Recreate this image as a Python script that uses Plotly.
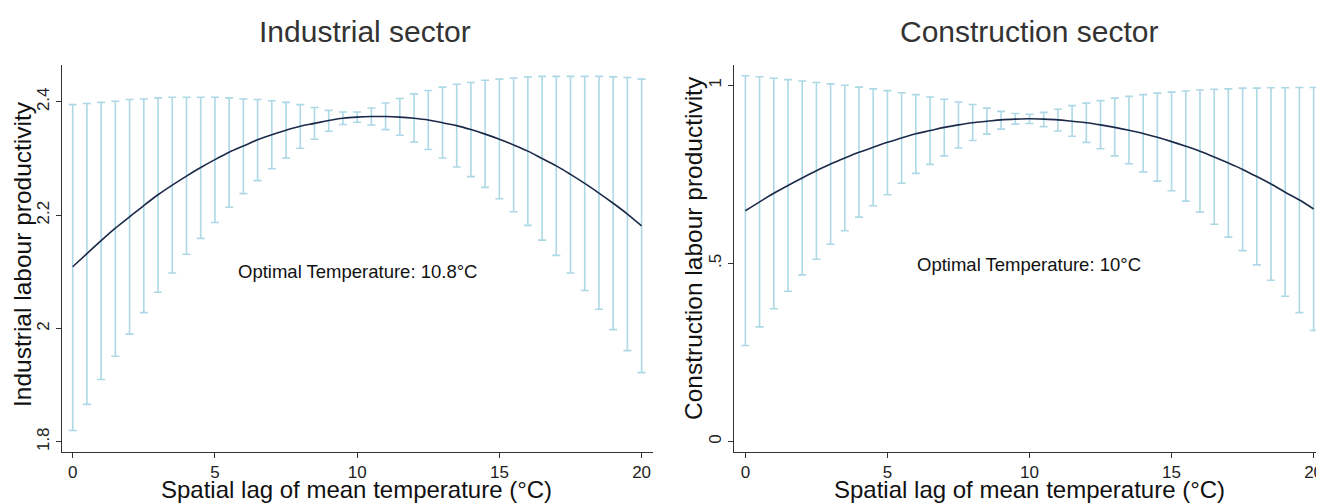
import plotly.graph_objects as go

# ---------------- data ----------------
temps = [i * 0.5 for i in range(41)]  # 0, 0.5, ..., 20

ind_fit = [2.109, 2.132, 2.155, 2.177, 2.197, 2.217, 2.236, 2.253, 2.269, 2.284,
           2.298, 2.311, 2.322, 2.333, 2.342, 2.350, 2.357, 2.362, 2.367, 2.371,
           2.373, 2.374, 2.374, 2.373, 2.371, 2.368, 2.363, 2.358, 2.351, 2.343,
           2.334, 2.324, 2.313, 2.300, 2.287, 2.272, 2.256, 2.239, 2.221, 2.202, 2.181]
ind_upper = [2.395, 2.397, 2.399, 2.401, 2.404, 2.405, 2.407, 2.408, 2.408, 2.408,
             2.408, 2.407, 2.405, 2.404, 2.402, 2.399, 2.395, 2.390, 2.385, 2.382,
             2.382, 2.389, 2.398, 2.406, 2.414, 2.420, 2.426, 2.431, 2.434, 2.438,
             2.440, 2.442, 2.444, 2.445, 2.445, 2.445, 2.445, 2.445, 2.444, 2.443, 2.440]
ind_lower = [1.820, 1.866, 1.910, 1.951, 1.990, 2.028, 2.064, 2.098, 2.131, 2.159,
             2.187, 2.214, 2.238, 2.261, 2.282, 2.301, 2.318, 2.334, 2.348, 2.360,
             2.364, 2.359, 2.351, 2.341, 2.329, 2.316, 2.301, 2.285, 2.268, 2.249,
             2.229, 2.206, 2.182, 2.156, 2.129, 2.098, 2.067, 2.034, 1.998, 1.961, 1.922]

con_fit = [0.648, 0.673, 0.697, 0.719, 0.740, 0.760, 0.779, 0.796, 0.812, 0.826,
           0.840, 0.852, 0.864, 0.873, 0.882, 0.889, 0.895, 0.899, 0.903, 0.905,
           0.906, 0.905, 0.903, 0.899, 0.895, 0.889, 0.882, 0.874, 0.865, 0.854,
           0.842, 0.829, 0.815, 0.799, 0.782, 0.764, 0.744, 0.723, 0.700, 0.678, 0.653]
con_upper = [1.027, 1.024, 1.020, 1.016, 1.012, 1.008, 1.004, 1.000, 0.995, 0.990,
             0.985, 0.979, 0.974, 0.967, 0.961, 0.953, 0.946, 0.936, 0.927, 0.921,
             0.919, 0.924, 0.933, 0.943, 0.950, 0.957, 0.964, 0.969, 0.974, 0.978,
             0.981, 0.984, 0.987, 0.989, 0.990, 0.992, 0.992, 0.993, 0.993, 0.994, 0.994]
con_lower = [0.270, 0.322, 0.373, 0.422, 0.468, 0.512, 0.554, 0.592, 0.630, 0.662,
             0.693, 0.725, 0.753, 0.778, 0.802, 0.824, 0.845, 0.863, 0.877, 0.891,
             0.893, 0.884, 0.872, 0.857, 0.840, 0.822, 0.802, 0.780, 0.757, 0.731,
             0.704, 0.675, 0.644, 0.610, 0.574, 0.536, 0.496, 0.453, 0.408, 0.362, 0.312]

x_ticks = [0, 5, 10, 15, 20]
ind_yticks = [1.8, 2.0, 2.2, 2.4]
ind_yticklabels = ["1.8", "2", "2.2", "2.4"]
con_yticks = [0, 0.5, 1]
con_yticklabels = ["0", ".5", "1"]

titles = ["Industrial sector", "Construction sector"]
y_titles = ["Industrial labour productivity", "Construction labour productivity"]
x_title = "Spatial lag of mean temperature (°C)"
opt_labels = ["Optimal Temperature: 10.8°C", "Optimal Temperature: 10°C"]
opt_pos = [(10, 2.101), (10, 0.496)]

# ---------------- styling ----------------
OFF = 8  # page body margin
W, H = 1324 - OFF, 504 - OFF
FONT = "Liberation Sans, Arial, sans-serif"
CI_COLOR = "#add8e6"
LINE_COLOR = "#1c2a4a"
AXIS_COLOR = "#333333"

def px_x(p):
    return (p - OFF) / W

def px_y(p):
    return 1 - (p - OFF) / H

fig = go.Figure()

panels = [
    dict(fit=ind_fit, up=ind_upper, lo=ind_lower, xa="x", ya="y"),
    dict(fit=con_fit, up=con_upper, lo=con_lower, xa="x2", ya="y2"),
]
for p in panels:
    plus = [u - m for u, m in zip(p["up"], p["fit"])]
    minus = [m - l for m, l in zip(p["fit"], p["lo"])]
    fig.add_trace(go.Scatter(
        x=temps, y=p["fit"], mode="markers",
        marker=dict(size=0.1, color="rgba(0,0,0,0)"),
        error_y=dict(type="data", symmetric=False, array=plus, arrayminus=minus,
                     color=CI_COLOR, thickness=1.6, width=4),
        xaxis=p["xa"], yaxis=p["ya"], showlegend=False, hoverinfo="skip"))
    fig.add_trace(go.Scatter(
        x=temps, y=p["fit"], mode="lines", line=dict(color=LINE_COLOR, width=1.6, shape="spline"),
        xaxis=p["xa"], yaxis=p["ya"], showlegend=False))

common_axis = dict(showline=True, linecolor=AXIS_COLOR, linewidth=1, ticks="outside",
                   ticklen=5, tickcolor=AXIS_COLOR, showgrid=False, zeroline=False,
                   ticklabeloverflow="allow",
                   tickfont=dict(family=FONT, size=17, color="#222"))

fig.update_layout(
    width=W, height=H, margin=dict(l=0, r=0, t=0, b=0),
    paper_bgcolor="white", plot_bgcolor="white",
    font=dict(family=FONT, color="#222"),
    xaxis=dict(domain=[px_x(62), px_x(653)], range=[-0.376, 20.4], tickvals=x_ticks,
               anchor="y", **common_axis),
    yaxis=dict(domain=[px_y(452), px_y(65)], range=[1.782, 2.465], tickvals=ind_yticks,
               ticktext=ind_yticklabels, tickangle=-90, anchor="x", **common_axis),
    xaxis2=dict(domain=[px_x(734), px_x(1323)], range=[-0.40, 20.33], tickvals=x_ticks,
                anchor="y2", **common_axis),
    yaxis2=dict(domain=[px_y(452), px_y(65)], range=[-0.029, 1.057], tickvals=con_yticks,
                ticktext=con_yticklabels, tickangle=-90, anchor="x2", **common_axis),
)

annotations = []
for cx, t in zip([365, 1029], titles):
    annotations.append(dict(text=t, x=px_x(cx), y=px_y(32), xref="paper", yref="paper",
                            showarrow=False, xanchor="center", yanchor="middle",
                            font=dict(family=FONT, size=30, color="#333")))
for cx, t in zip([357, 1030], [x_title, x_title]):
    annotations.append(dict(text=t, x=px_x(cx), y=0, xref="paper", yref="paper",
                            showarrow=False, xanchor="center", yanchor="bottom", borderpad=0,
                            font=dict(family=FONT, size=24, color="#111")))
for cx, cy, t in zip([22, 693], [254, 248], y_titles):
    annotations.append(dict(text=t, x=px_x(cx), y=px_y(cy), xref="paper", yref="paper",
                            showarrow=False, xanchor="center", yanchor="middle", textangle=-90,
                            font=dict(family=FONT, size=24.5, color="#111")))
for (ox, oy), t, xr, yr in zip(opt_pos, opt_labels, ["x", "x2"], ["y", "y2"]):
    annotations.append(dict(text=t, x=ox, y=oy, xref=xr, yref=yr, showarrow=False,
                            xanchor="center", yanchor="middle",
                            font=dict(family=FONT, size=18.5, color="#111")))
fig.update_layout(annotations=annotations)

fig.write_html("out.html")
